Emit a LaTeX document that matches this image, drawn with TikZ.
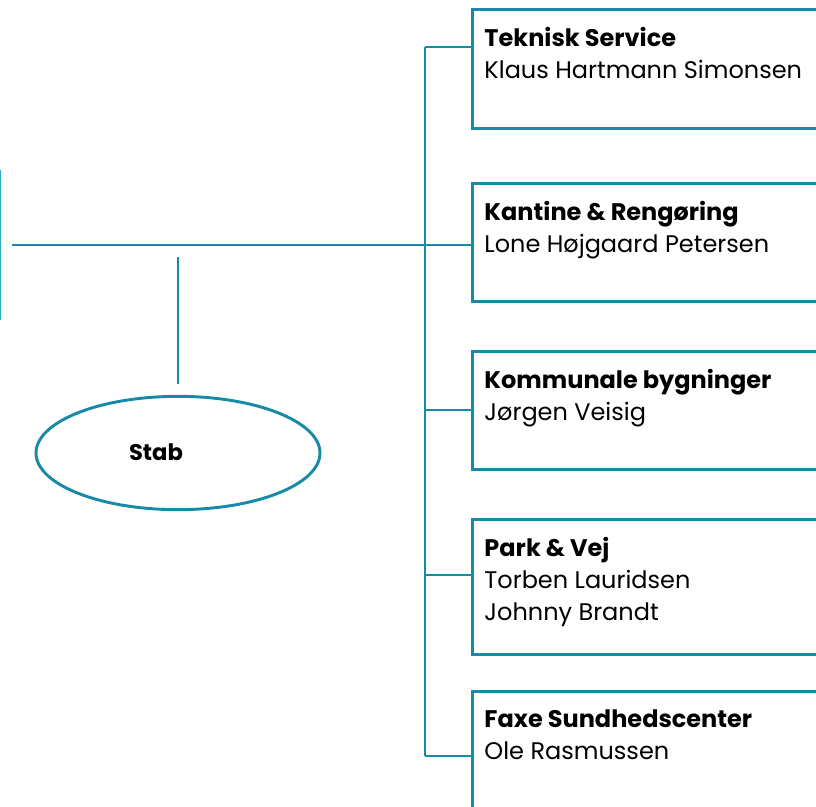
\documentclass[tikz,border=0pt]{standalone}
\usepackage{fontspec}
\setmainfont{Poppins}
\usetikzlibrary{shapes.geometric}
\definecolor{orgteal}{RGB}{22,138,166}
\definecolor{orglight}{RGB}{52,168,204}
\begin{document}
\begin{tikzpicture}[x=0.75pt,y=-0.75pt,line width=2.2pt,draw=orgteal,
	unitbox/.style={draw, rectangle, anchor=north west, minimum width=320pt, inner sep=0pt},
	unittext/.style={anchor=north west, align=left, inner sep=0pt, font=\fontsize{18}{24}\selectfont}]
	\useasboundingbox (0,0) rectangle (816,806);
	\clip (0,0) rectangle (816,806);
	% director box, only its right edge is visible
	\node (D) at (1,245) [draw=orglight, anchor=east, minimum width=100pt, minimum height=111pt] {};
	% units
	\node (B1) at (471,  8) [unitbox, minimum height=89pt]  {};
	\node (B2) at (471,182) [unitbox, minimum height=88.5pt] {};
	\node (B3) at (471,350) [unitbox, minimum height=88.5pt] {};
	\node (B4) at (471,518) [unitbox, minimum height=101pt] {};
	\node (B5) at (471,690) [unitbox, minimum height=100pt] {};
	\node (T1) at (483, 26) [unittext] {\textbf{Teknisk Service}\\Klaus Hartmann Simonsen};
	\node (T2) at (483,200) [unittext] {\textbf{Kantine \& Rengøring}\\Lone Højgaard Petersen};
	\node (T3) at (483,368) [unittext] {\textbf{Kommunale bygninger}\\Jørgen Veisig};
	\node (T4) at (483,536) [unittext] {\textbf{Park \& Vej}\\Torben Lauridsen\\Johnny Brandt};
	\node (T5) at (483,708) [unittext] {\textbf{Faxe Sundhedscenter}\\Ole Rasmussen};
	% staff
	\node (S) at (178,453) [ellipse, draw, minimum width=213pt, minimum height=85pt] {};
	\node (ST) at (156,452) [font=\fontsize{17}{20}\selectfont\bfseries] {Stab};
	% connectors
	\coordinate (h0) at (12,245);
	\coordinate (h1) at (425,245);
	\coordinate (s0) at (178,257);
	\coordinate (s1) at (178,384);
	\coordinate (k1) at (425,47);
	\coordinate (k3) at (425,410);
	\coordinate (k4) at (425,575);
	\coordinate (k5) at (425,756);
	\draw (h0) -- (h1);
	\draw (s0) -- (s1);
	\draw (k1) -- (k5);
	\draw (k1) -- (k1 -| B1.west);
	\draw (h1) -- (h1 -| B2.west);
	\draw (k3) -- (k3 -| B3.west);
	\draw (k4) -- (k4 -| B4.west);
	\draw (k5) -- (k5 -| B5.west);
\end{tikzpicture}
\end{document}
